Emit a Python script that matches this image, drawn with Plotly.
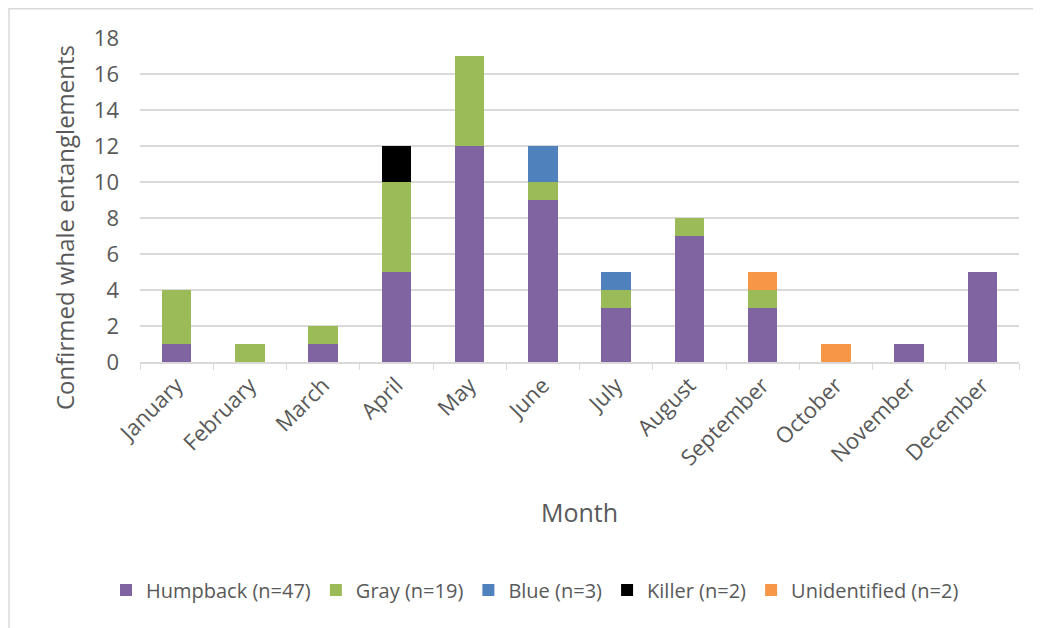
import plotly.graph_objects as go

months = ["January", "February", "March", "April", "May", "June", "July",
          "August", "September", "October", "November", "December"]
humpback = [1, 0, 1, 5, 12, 9, 3, 7, 3, 0, 1, 5]
gray = [3, 1, 1, 5, 5, 1, 1, 1, 1, 0, 0, 0]
blue = [0, 0, 0, 0, 0, 2, 1, 0, 0, 0, 0, 0]
killer = [0, 0, 0, 2, 0, 0, 0, 0, 0, 0, 0, 0]
unidentified = [0, 0, 0, 0, 0, 0, 0, 0, 1, 1, 0, 0]

series = [
    ("Humpback (n=47)", humpback, "#8064A2"),
    ("Gray (n=19)", gray, "#9BBB59"),
    ("Blue (n=3)", blue, "#4F81BD"),
    ("Killer (n=2)", killer, "#000000"),
    ("Unidentified (n=2)", unidentified, "#F79646"),
]

FONT = "Open Sans"
TXT = "#595959"

fig = go.Figure()
for name, vals, col in series:
    fig.add_trace(go.Bar(x=months, y=vals, name=name,
                         marker=dict(color=col, line=dict(width=0)),
                         width=0.4))

# page has an 8px body margin; figure coordinates = screen - 8
OFF = 8
W, H = 1033, 620
L, T = 140 - OFF, 38 - OFF
R = W - (1019 - OFF)
B = H - (362 - OFF)
pw, ph = W - L - R, H - T - B

fig.update_layout(
    width=W, height=H,
    barmode="stack",
    paper_bgcolor="white", plot_bgcolor="white",
    margin=dict(l=L, r=R, t=T, b=B, autoexpand=False),
    font=dict(family=FONT, color=TXT, size=22),
    showlegend=True,
    legend=dict(orientation="h", xref="container", yref="container",
                x=(535 - OFF) / W, xanchor="center",
                y=1 - (590 - OFF) / H, yanchor="middle",
                font=dict(size=20, color=TXT), itemwidth=30,
                traceorder="normal"),
    xaxis=dict(
        tickangle=-45, tickfont=dict(size=22, color=TXT),
        showline=True, linecolor="#D9D9D9", linewidth=1.5,
        ticks="outside", tickson="boundaries", tickcolor="#D9D9D9",
        ticklen=6, showgrid=False,
        title=dict(text="Month", font=dict(size=25, color=TXT), standoff=34),
    ),
    yaxis=dict(
        range=[0, 18], dtick=2, showgrid=True, gridcolor="#D9D9D9",
        gridwidth=1.5, zeroline=False, showline=False,
        tickfont=dict(size=22, color=TXT), ticks="", ticklabelstandoff=20,
    ),
    annotations=[dict(text="Confirmed whale entanglements", textangle=-90,
                      xref="paper", yref="paper",
                      x=(65 - OFF - L) / pw, y=(362 - 228) / ph,
                      xanchor="center", yanchor="middle", showarrow=False,
                      font=dict(size=24, color=TXT))],
    shapes=[dict(type="rect", xref="paper", yref="paper",
                 x0=(9 - OFF - L) / pw, x1=(1080 - L) / pw,
                 y0=-(700) / ph, y1=(ph + T - 0.75) / ph,
                 line=dict(color="#D9D9D9", width=1.5), layer="below")],
)

fig.write_html("out.html")
